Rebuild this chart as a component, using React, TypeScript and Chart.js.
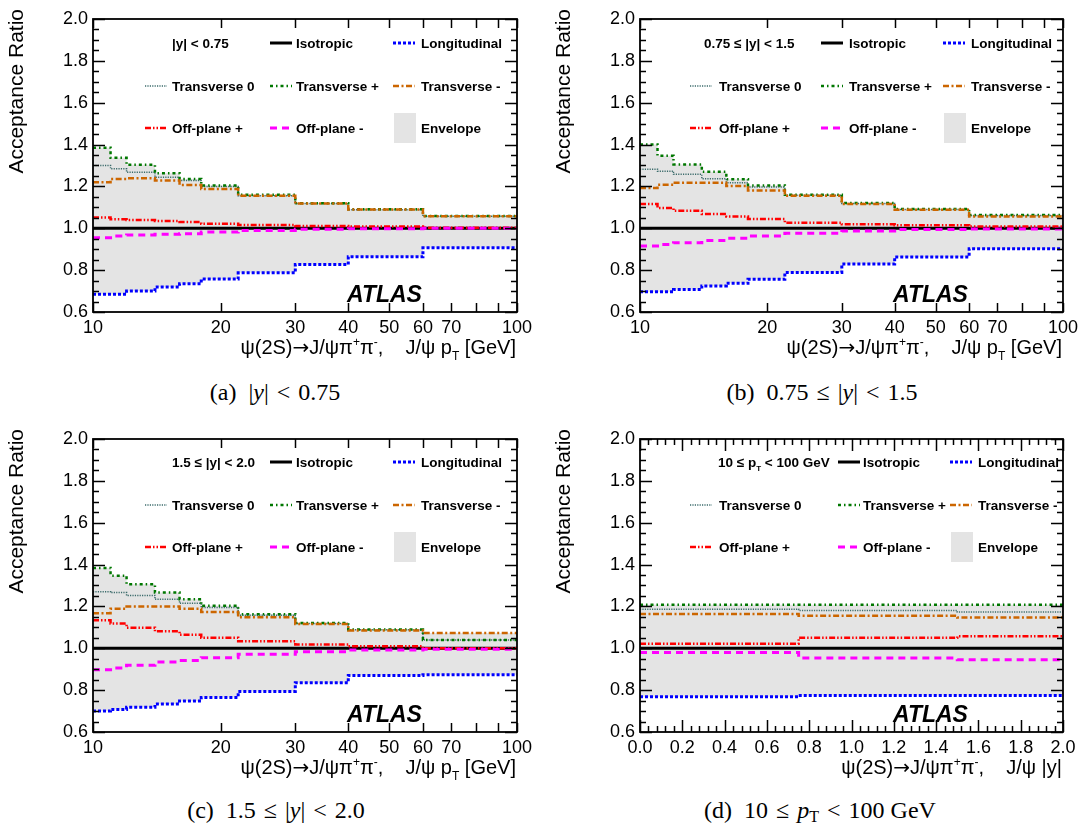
import React, { useEffect, useRef } from 'react';
import { Chart, registerables } from 'chart.js';
Chart.register(...registerables);

// ---------- DATA ----------
const PT_EDGES = [10, 11, 12, 14, 16, 18, 22, 30, 40, 60, 100];
const Y_EDGES = [0, 0.75, 1.5, 2.0];

const Y_TICKS = [0.6, 0.8, 1.0, 1.2, 1.4, 1.6, 1.8, 2.0];
const PT_TICKS = [10, 20, 30, 40, 50, 60, 70, 80, 90, 100];
const PT_LABELED = [10, 20, 30, 40, 50, 60, 70, 100];
const ABSY_TICKS = [0, 0.2, 0.4, 0.6, 0.8, 1.0, 1.2, 1.4, 1.6, 1.8, 2.0];

// (a) |y| < 0.75
const A_ISO = [1, 1, 1, 1, 1, 1, 1, 1, 1, 1];
const A_LONG = [0.685, 0.685, 0.70, 0.72, 0.735, 0.758, 0.787, 0.827, 0.864, 0.907];
const A_T0 = [1.30, 1.284, 1.268, 1.244, 1.228, 1.20, 1.156, 1.118, 1.089, 1.057];
const A_TP = [1.385, 1.337, 1.303, 1.263, 1.236, 1.204, 1.16, 1.12, 1.091, 1.059];
const A_TM = [1.22, 1.236, 1.239, 1.228, 1.207, 1.188, 1.155, 1.118, 1.090, 1.058];
const A_OP = [1.051, 1.043, 1.04, 1.035, 1.03, 1.022, 1.016, 1.011, 1.008, 1.003];
const A_OM = [0.955, 0.963, 0.968, 0.971, 0.974, 0.982, 0.99, 0.995, 0.998, 1.0];

// (b) 0.75 <= |y| < 1.5
const B_ISO = [1, 1, 1, 1, 1, 1, 1, 1, 1, 1];
const B_LONG = [0.697, 0.697, 0.708, 0.724, 0.737, 0.756, 0.789, 0.829, 0.863, 0.902];
const B_T0 = [1.282, 1.273, 1.258, 1.237, 1.218, 1.197, 1.158, 1.119, 1.090, 1.061];
const B_TP = [1.40, 1.347, 1.305, 1.27, 1.234, 1.205, 1.16, 1.121, 1.092, 1.063];
const B_TM = [1.192, 1.208, 1.218, 1.218, 1.202, 1.18, 1.156, 1.116, 1.089, 1.056];
const B_OP = [1.116, 1.097, 1.084, 1.068, 1.056, 1.044, 1.027, 1.019, 1.015, 1.008];
const B_OM = [0.915, 0.923, 0.931, 0.942, 0.952, 0.963, 0.976, 0.987, 0.994, 0.997];

// (c) 1.5 <= |y| < 2.0
const C_ISO = [1, 1, 1, 1, 1, 1, 1, 1, 1, 1];
const C_LONG = [0.70, 0.708, 0.718, 0.734, 0.748, 0.765, 0.794, 0.835, 0.87, 0.874];
const C_T0 = [1.27, 1.266, 1.252, 1.234, 1.215, 1.195, 1.158, 1.119, 1.088, 1.039];
const C_TP = [1.384, 1.347, 1.306, 1.266, 1.234, 1.203, 1.163, 1.121, 1.090, 1.04];
const C_TM = [1.168, 1.189, 1.20, 1.20, 1.189, 1.173, 1.148, 1.116, 1.085, 1.073];
const C_OP = [1.134, 1.118, 1.098, 1.081, 1.065, 1.05, 1.034, 1.018, 1.01, 1.0];
const C_OM = [0.898, 0.906, 0.919, 0.934, 0.942, 0.955, 0.971, 0.984, 0.992, 0.995];

// (d) 10 <= pT < 100 GeV, vs |y|
const D_ISO = [1, 1, 1];
const D_LONG = [0.769, 0.775, 0.775];
const D_T0 = [1.186, 1.18, 1.173];
const D_TP = [1.208, 1.208, 1.208];
const D_TM = [1.164, 1.155, 1.147];
const D_OP = [1.022, 1.05, 1.058];
const D_OM = [0.98, 0.953, 0.945];

// ---------- STYLES ----------
const FONT = '"Liberation Sans", Arial, Helvetica, sans-serif';
const ARROW_FONT = '"DejaVu Sans", sans-serif';
type Sty = { label: string; color: string; width: number; dash: number[] };
const ST: Record<string, Sty> = {
  iso: { label: 'Isotropic', color: '#000000', width: 3, dash: [] },
  long: { label: 'Longitudinal', color: '#0000ff', width: 3, dash: [3, 2] },
  t0: { label: 'Transverse 0', color: '#3b6b6b', width: 1.5, dash: [1.2, 1.2] },
  tp: { label: 'Transverse +', color: '#007700', width: 2.5, dash: [3, 3, 1.5, 3] },
  tm: { label: 'Transverse -', color: '#cc6600', width: 2.5, dash: [6, 2.5, 2, 2.5] },
  op: { label: 'Off-plane +', color: '#ff0000', width: 2.5, dash: [6, 2, 1.5, 2, 1.5, 2] },
  om: { label: 'Off-plane -', color: '#ff00ff', width: 3, dash: [7, 5] },
};
const ENV_COLOR = '#e4e4e4';

type Seg = { t: string; sup?: boolean; sub?: boolean; fam?: string };

type Panel = {
  key: string;
  left: number; top: number; width: number; height: number;
  padRight: number;
  log: boolean;
  edges: number[];
  s: Record<string, number[]>;
  header: Seg[];
  headerX: number;
  symX: number[];
  textX: number[];
  rows: number[];
  xTitle: Seg[];
};

const TITLE_PT: Seg[] = [
  { t: 'ψ(2S)' }, { t: '→', fam: ARROW_FONT }, { t: 'J/ψπ' }, { t: '+', sup: true }, { t: 'π' }, { t: '-', sup: true },
  { t: ',    J/ψ p' }, { t: 'T', sub: true }, { t: ' [GeV]' },
];
const TITLE_Y: Seg[] = [
  { t: 'ψ(2S)' }, { t: '→', fam: ARROW_FONT }, { t: 'J/ψπ' }, { t: '+', sup: true }, { t: 'π' }, { t: '-', sup: true },
  { t: ',    J/ψ |y|' },
];

const PANELS: Panel[] = [
  {
    key: 'a', left: 0, top: 0, width: 541, height: 375, padRight: 24, log: true, edges: PT_EDGES,
    s: { iso: A_ISO, long: A_LONG, t0: A_T0, tp: A_TP, tm: A_TM, op: A_OP, om: A_OM },
    header: [{ t: '|y| < 0.75' }], headerX: 79,
    symX: [52, 177, 300], textX: [79, 203, 328], rows: [24, 67, 109], xTitle: TITLE_PT,
  },
  {
    key: 'b', left: 547, top: 0, width: 536, height: 375, padRight: 20, log: true, edges: PT_EDGES,
    s: { iso: B_ISO, long: B_LONG, t0: B_T0, tp: B_TP, tm: B_TM, op: B_OP, om: B_OM },
    header: [{ t: '0.75 ≤ |y| < 1.5' }], headerX: 64,
    symX: [50, 181, 303], textX: [79, 209, 331], rows: [24, 67, 109], xTitle: TITLE_PT,
  },
  {
    key: 'c', left: 0, top: 420, width: 541, height: 375, padRight: 24, log: true, edges: PT_EDGES,
    s: { iso: C_ISO, long: C_LONG, t0: C_T0, tp: C_TP, tm: C_TM, op: C_OP, om: C_OM },
    header: [{ t: '1.5 ≤ |y| < 2.0' }], headerX: 79,
    symX: [52, 177, 300], textX: [79, 203, 328], rows: [23, 66, 108], xTitle: TITLE_PT,
  },
  {
    key: 'd', left: 547, top: 420, width: 536, height: 375, padRight: 20, log: false, edges: Y_EDGES,
    s: { iso: D_ISO, long: D_LONG, t0: D_T0, tp: D_TP, tm: D_TM, op: D_OP, om: D_OM },
    header: [{ t: '10 ≤ p' }, { t: 'T', sub: true }, { t: ' < 100 GeV' }], headerX: 78,
    symX: [50, 198, 310], textX: [79, 223, 338], rows: [23, 66, 108], xTitle: TITLE_Y,
  },
];

// ---------- HELPERS ----------
function stepPts(edges: number[], vals: number[]) {
  const pts = vals.map((v, i) => ({ x: edges[i], y: v }));
  pts.push({ x: edges[edges.length - 1], y: vals[vals.length - 1] });
  return pts;
}

function drawRich(ctx: CanvasRenderingContext2D, segs: Seg[], x: number, y: number, size: number, weight: string, align: 'left' | 'right') {
  const fontFor = (s: Seg) => `${weight} ${s.sup || s.sub ? Math.round(size * 0.62) : size}px ${s.fam || FONT}`;
  let total = 0;
  for (const s of segs) { ctx.font = fontFor(s); total += ctx.measureText(s.t).width; }
  let cx = align === 'right' ? x - total : x;
  ctx.textAlign = 'left';
  ctx.textBaseline = 'alphabetic';
  for (const s of segs) {
    ctx.font = fontFor(s);
    const dy = s.sup ? -size * 0.42 : s.sub ? size * 0.3 : 0;
    ctx.fillText(s.t, cx, y + dy);
    cx += ctx.measureText(s.t).width;
  }
}

function makeOverlay(p: Panel) {
  return {
    id: 'overlay_' + p.key,
    afterDraw(chart: any) {
      const ctx: CanvasRenderingContext2D = chart.ctx;
      const a = chart.chartArea;
      const xs = chart.scales.x;
      const ys = chart.scales.y;
      ctx.save();
      ctx.fillStyle = '#000';
      ctx.strokeStyle = '#000';
      ctx.setLineDash([]);
      // y ticks (major + minor), both sides
      ctx.lineWidth = 1.5;
      ctx.beginPath();
      for (let k = 0; k <= 28; k++) {
        const v = 0.6 + k * 0.05;
        const py = Math.round(ys.getPixelForValue(v)) + 0.5;
        const len = k % 4 === 0 ? 12 : 6;
        ctx.moveTo(a.left, py); ctx.lineTo(a.left + len, py);
        ctx.moveTo(a.right, py); ctx.lineTo(a.right - len, py);
      }
      // x ticks
      if (p.log) {
        for (const v of PT_TICKS) {
          const px = Math.round(xs.getPixelForValue(v)) + 0.5;
          ctx.moveTo(px, a.bottom); ctx.lineTo(px, a.bottom - 9);
          ctx.moveTo(px, a.top); ctx.lineTo(px, a.top + 9);
        }
      } else {
        for (let k = 0; k <= 50; k++) {
          const v = k * 0.04;
          const px = Math.round(xs.getPixelForValue(v)) + 0.5;
          const len = k % 5 === 0 ? 12 : 6;
          ctx.moveTo(px, a.bottom); ctx.lineTo(px, a.bottom - len);
          ctx.moveTo(px, a.top); ctx.lineTo(px, a.top + len);
        }
      }
      ctx.stroke();
      // frame
      ctx.lineWidth = 1.8;
      ctx.strokeRect(a.left, a.top, a.right - a.left, a.bottom - a.top);

      // legend
      const keys = [['__h', 'iso', 'long'], ['t0', 'tp', 'tm'], ['op', 'om', '__env']];
      for (let r = 0; r < 3; r++) {
        const cy = a.top + p.rows[r];
        for (let c = 0; c < 3; c++) {
          const k = keys[r][c];
          ctx.fillStyle = '#000';
          if (k === '__h') {
            drawRich(ctx, p.header, a.left + p.headerX, cy + 5, 13.5, 'bold', 'left');
            continue;
          }
          const sx = a.left + p.symX[c];
          if (k === '__env') {
            ctx.fillStyle = ENV_COLOR;
            ctx.fillRect(sx + 1, cy - 15, 22, 30);
            ctx.fillStyle = '#000';
            ctx.font = `bold 13.5px ${FONT}`;
            ctx.textAlign = 'left'; ctx.textBaseline = 'alphabetic';
            ctx.fillText('Envelope', a.left + p.textX[c], cy + 5);
            continue;
          }
          const st = ST[k];
          ctx.strokeStyle = st.color;
          ctx.lineWidth = st.width;
          ctx.setLineDash(st.dash);
          ctx.beginPath();
          ctx.moveTo(sx, cy); ctx.lineTo(sx + 22, cy);
          ctx.stroke();
          ctx.setLineDash([]);
          ctx.font = `bold 13.5px ${FONT}`;
          ctx.textAlign = 'left'; ctx.textBaseline = 'alphabetic';
          ctx.fillText(st.label, a.left + p.textX[c], cy + 5);
        }
      }

      // ATLAS
      ctx.fillStyle = '#000';
      ctx.font = `italic bold 23px ${FONT}`;
      ctx.textAlign = 'left'; ctx.textBaseline = 'alphabetic';
      ctx.fillText('ATLAS', a.right - 170, a.bottom - 10);

      // x title
      drawRich(ctx, p.xTitle, a.right - 1, a.bottom + 42, 20, 'normal', 'right');

      // y title
      ctx.save();
      ctx.translate(a.left - 76, a.top - 10);
      ctx.rotate(-Math.PI / 2);
      ctx.font = `21px ${FONT}`;
      ctx.textAlign = 'right';
      ctx.textBaseline = 'middle';
      ctx.fillText('Acceptance Ratio', 0, 0);
      ctx.restore();

      ctx.restore();
    },
  };
}

function buildConfig(p: Panel): any {
  const order = ['om', 'op', 'tm', 'tp', 't0', 'long', 'iso'];
  const all = order.map((k) => p.s[k]);
  const nb = p.edges.length - 1;
  const envHi: number[] = [];
  const envLo: number[] = [];
  for (let i = 0; i < nb; i++) {
    envHi.push(Math.max(...all.map((s) => s[i])));
    envLo.push(Math.min(...all.map((s) => s[i])));
  }
  const datasets: any[] = order.map((k) => ({
    label: ST[k].label,
    data: stepPts(p.edges, p.s[k]),
    borderColor: ST[k].color,
    borderWidth: ST[k].width,
    borderDash: ST[k].dash,
    stepped: 'before',
    fill: false,
    pointRadius: 0,
  }));
  datasets.push({
    label: 'EnvLo', data: stepPts(p.edges, envLo), borderWidth: 0, borderColor: 'rgba(0,0,0,0)',
    stepped: 'before', fill: false, pointRadius: 0,
  });
  datasets.push({
    label: 'Envelope', data: stepPts(p.edges, envHi), borderWidth: 0, borderColor: 'rgba(0,0,0,0)',
    backgroundColor: ENV_COLOR, stepped: 'before', fill: '-1', pointRadius: 0,
  });

  const xScale: any = p.log
    ? {
        type: 'logarithmic', min: 10, max: 100,
        afterBuildTicks: (s: any) => { s.ticks = PT_TICKS.map((v) => ({ value: v })); },
        ticks: {
          autoSkip: false, maxRotation: 0, padding: 5, color: '#000',
          font: { family: FONT, size: 18 },
          callback: (v: any) => (PT_LABELED.includes(Number(v)) ? String(v) : ''),
        },
      }
    : {
        type: 'linear', min: 0, max: 2,
        afterBuildTicks: (s: any) => { s.ticks = ABSY_TICKS.map((v) => ({ value: v })); },
        ticks: {
          autoSkip: false, maxRotation: 0, padding: 5, color: '#000',
          font: { family: FONT, size: 18 },
          callback: (v: any) => Number(v).toFixed(1),
        },
      };
  xScale.grid = { display: false, drawTicks: false };
  xScale.border = { display: false };
  xScale.afterFit = (s: any) => { s.height = 63; };

  return {
    type: 'line',
    data: { datasets },
    options: {
      animation: false,
      responsive: false,
      maintainAspectRatio: false,
      events: [],
      layout: { padding: { left: 0, top: 19, right: p.padRight, bottom: 0 } },
      plugins: { legend: { display: false }, tooltip: { enabled: false } },
      elements: { point: { radius: 0 }, line: { tension: 0 } },
      scales: {
        x: xScale,
        y: {
          type: 'linear', min: 0.6, max: 2.0,
          afterBuildTicks: (s: any) => { s.ticks = Y_TICKS.map((v) => ({ value: v })); },
          grid: { display: false, drawTicks: false },
          border: { display: false },
          ticks: {
            padding: 5, color: '#000', font: { family: FONT, size: 18 },
            callback: (v: any) => Number(v).toFixed(1),
          },
          afterFit: (s: any) => { s.width = 93; },
        },
      },
    },
    plugins: [makeOverlay(p)],
  };
}

function PanelChart({ p }: { p: Panel }) {
  const ref = useRef<HTMLCanvasElement | null>(null);
  useEffect(() => {
    if (!ref.current) return;
    const chart = new Chart(ref.current, buildConfig(p));
    return () => chart.destroy();
  }, [p]);
  return (
    <canvas
      ref={ref}
      width={p.width}
      height={p.height}
      style={{ position: 'absolute', left: p.left, top: p.top, width: p.width, height: p.height }}
    />
  );
}

const capStyle = (cx: number, cy: number): React.CSSProperties => ({
  position: 'absolute', left: cx - 250, top: cy - 15, width: 500, textAlign: 'center',
  fontFamily: '"Liberation Serif", "Times New Roman", serif', fontSize: 24, lineHeight: '30px',
  color: '#000', whiteSpace: 'nowrap',
});
const G = ({ w }: { w: number }) => <span style={{ display: 'inline-block', width: w }} />;

export default function App() {
  return (
    <div style={{ position: 'absolute', left: 0, top: 0, width: 1083, height: 823, background: '#fff', overflow: 'hidden' }}>
      {PANELS.map((p) => <PanelChart key={p.key} p={p} />)}
      <div style={capStyle(275, 392)}>(a)<G w={12} />|<i>y</i>|<G w={8} />&lt;<G w={8} />0.75</div>
      <div style={capStyle(822, 392)}>(b)<G w={12} />0.75<G w={8} />≤<G w={8} />|<i>y</i>|<G w={8} />&lt;<G w={8} />1.5</div>
      <div style={capStyle(276, 810)}>(c)<G w={12} />1.5<G w={8} />≤<G w={8} />|<i>y</i>|<G w={8} />&lt;<G w={8} />2.0</div>
      <div style={capStyle(820, 810)}>(d)<G w={12} />10<G w={8} />≤<G w={8} /><i>p</i><sub style={{ fontSize: 16, verticalAlign: '-4px' }}>T</sub><G w={8} />&lt;<G w={8} />100 GeV</div>
    </div>
  );
}
